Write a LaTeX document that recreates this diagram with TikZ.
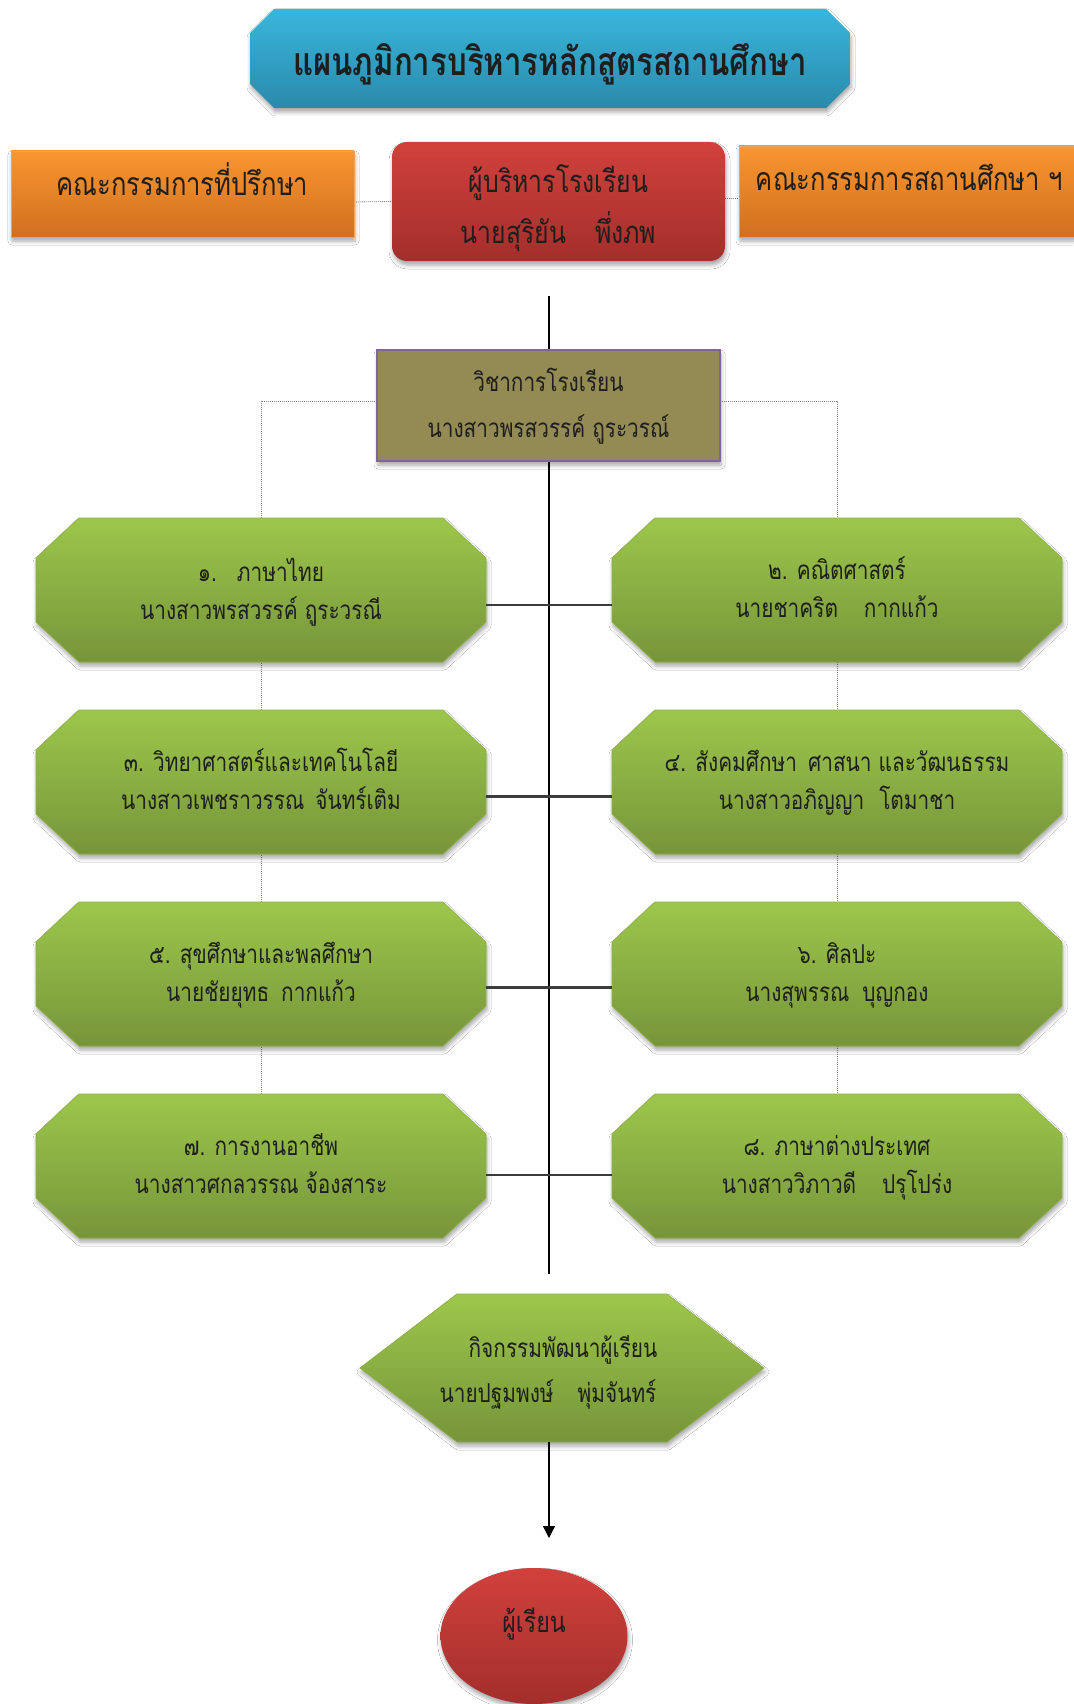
\documentclass[tikz,border=0pt]{standalone}
\usepackage{fontspec}
\newfontfamily\thai[Script=Thai, FakeStretch=0.8]{Loma}
\usetikzlibrary{shapes.geometric,shadows.blur,arrows.meta,calc}
\definecolor{tealT}{HTML}{39B6DC}
\definecolor{tealB}{HTML}{2A8AAB}
\definecolor{oraT}{HTML}{F89631}
\definecolor{oraB}{HTML}{D16F1E}
\definecolor{oraD}{HTML}{F2A25A}
\definecolor{redT}{HTML}{D1413C}
\definecolor{redB}{HTML}{A32E2B}
\definecolor{olive}{HTML}{948A54}
\definecolor{purp}{HTML}{8064A2}
\definecolor{grnT}{HTML}{9DC74B}
\definecolor{grnB}{HTML}{76953A}
\definecolor{grnD}{HTML}{8CB043}
\definecolor{txt}{HTML}{1E1E1E}
\definecolor{conn}{HTML}{3C3C3C}
\pgfdeclarelayer{bg}
\pgfdeclarelayer{shapes}
\pgfsetlayers{bg,shapes,main}
% text lines lowered by #1 without changing the node size
\newcommand\txtlines[2]{\raisebox{-#1}[\height][\depth]{\begin{tabular}{@{}c@{}}#2\end{tabular}}}
% octagon drawn on the anchors of a rectangular node (chamfers in picture units)
\newcommand\octashape[4]{\path[#1] ($(#2.north west)+(#3,0)$) -- ($(#2.north east)+(-#3,0)$)
  -- ($(#2.north east)+(0,#4)$) -- ($(#2.south east)+(0,-#4)$) -- ($(#2.south east)+(-#3,0)$)
  -- ($(#2.south west)+(#3,0)$) -- ($(#2.south west)+(0,-#4)$) -- ($(#2.north west)+(0,#4)$) -- cycle;}
\newcommand\hexashape[3]{\path[#1] ($(#2.north west)+(#3,0)$) -- ($(#2.north east)+(-#3,0)$)
  -- (#2.east) -- ($(#2.south east)+(-#3,0)$) -- ($(#2.south west)+(#3,0)$) -- (#2.west) -- cycle;}
\begin{document}
\begin{tikzpicture}[x=1pt,y=-1pt,
  shadowed/.style={blur shadow={shadow xshift=1pt, shadow yshift=-4pt, shadow blur radius=4pt, shadow opacity=35}},
  boxnode/.style={rectangle, inner sep=0pt, outer sep=0pt, text=txt},
  titlefill/.style={top color=tealT, bottom color=tealB, shadowed},
  greenfill/.style={top color=grnT, bottom color=grnB, draw=grnD, line width=0.6pt, shadowed},
  orangebox/.style={boxnode, top color=oraT, bottom color=oraB, draw=oraD, line width=0.8pt,
    shadowed, font=\thai\fontsize{32}{40}\selectfont},
  redbox/.style={boxnode, rounded corners=15pt, top color=redT, bottom color=redB,
    shadowed, font=\thai\fontsize{31}{51}\selectfont},
  olivebox/.style={boxnode, fill=olive, draw=purp, line width=1.5pt,
    shadowed, font=\thai\fontsize{26}{46}\selectfont},
  greenbox/.style={boxnode, minimum width=450pt, minimum height=144pt, font=\thai\fontsize{26}{38.5}\selectfont},
  hexbox/.style={boxnode, minimum width=404pt, minimum height=148pt, font=\thai\fontsize{26}{45}\selectfont},
  studentbox/.style={ellipse, minimum width=187pt, minimum height=136pt, inner sep=0pt, outer sep=0pt,
    top color=redT, bottom color=redB, shadowed, text=txt, font=\thai\fontsize{29}{36}\selectfont,
    text height=10pt, text depth=16.2pt},
  dotline/.style={draw=black!50, line width=0.8pt, dash pattern=on 1pt off 1pt},
  vline/.style={draw=black, line width=1.5pt},
  hconn/.style={draw=conn, line width=2.6pt},
  arrowline/.style={draw=black, line width=1.4pt, -{Triangle[width=12pt,length=12pt]}}
]
\useasboundingbox (0,0) rectangle (1073,1704);

\node[boxnode, minimum width=600pt, minimum height=99pt, font=\thai\bfseries\fontsize{39}{46}\selectfont,
  text height=40pt, text depth=6.4pt] (title) at (550,58.5) {แผนภูมิการบริหารหลักสูตรสถานศึกษา};

\node[orangebox, minimum width=343pt, minimum height=86pt, text height=16pt, text depth=12.2pt] (advisors) at (182.5,194) {คณะกรรมการที่ปรึกษา};
\node[redbox, minimum width=333pt, minimum height=119pt] (director) at (558.5,201.5) {\txtlines{6pt}{ผู้บริหารโรงเรียน\\นายสุริยัน\hspace{29pt}พึ่งภพ}};
\node[orangebox, minimum width=341pt, minimum height=91pt, text height=12pt, text depth=14.2pt] (board) at (909.5,191.5) {คณะกรรมการสถานศึกษา ฯ};

\node[olivebox, minimum width=343pt, minimum height=111pt] (academic) at (548.5,405.5) {\txtlines{0pt}{วิชาการโรงเรียน\\นางสาวพรสวรรค์ ฤูระวรณ์}};

\node[greenbox] (b1) at (261,590) {\txtlines{3pt}{๑.\hspace{20pt}ภาษาไทย\\นางสาวพรสวรรค์ ฤูระวรณี}};
\node[greenbox] (b2) at (837,590) {\txtlines{1pt}{๒. คณิตศาสตร์\\นายชาคริต\hspace{26pt}กากแก้ว}};
\node[greenbox] (b3) at (261,782) {\txtlines{1pt}{๓. วิทยาศาสตร์และเทคโนโลยี\\นางสาวเพชราวรรณ\hspace{11pt}จันทร์เติม}};
\node[greenbox] (b4) at (837,782) {\txtlines{1pt}{๔. สังคมศึกษา\hspace{11pt}ศาสนา และวัฒนธรรม\\นางสาวอภิญญา\hspace{15pt}โตมาชา}};
\node[greenbox] (b5) at (261,974) {\txtlines{1pt}{๕. สุขศึกษาและพลศึกษา\\นายชัยยุทธ\hspace{12pt}กากแก้ว}};
\node[greenbox] (b6) at (837,974) {\txtlines{1pt}{๖. ศิลปะ\\นางสุพรรณ\hspace{13pt}บุญกอง}};
\node[greenbox] (b7) at (261,1166) {\txtlines{1pt}{๗. การงานอาชีพ\\นางสาวศกลวรรณ จ้องสาระ}};
\node[greenbox] (b8) at (837,1166) {\txtlines{1pt}{๘. ภาษาต่างประเทศ\\นางสาววิภาวดี\hspace{26pt}ปรุโปร่ง}};

\node[hexbox] (activity) at (562,1368) {\txtlines{3pt}{\hspace*{2pt}กิจกรรมพัฒนาผู้เรียน\\นายปฐมพงษ์\hspace{24pt}พุ่มจันทร์\hspace*{28pt}}};
\node[studentbox] (student) at (534,1636) {ผู้เรียน};

\coordinate (vtop) at (549,296);
\coordinate (vbot) at (549,1274);
\coordinate (arrowend) at (549,1538);

\begin{pgfonlayer}{shapes}
  \octashape{titlefill}{title}{24}{24}
  \octashape{greenfill}{b1}{43}{40}
  \octashape{greenfill}{b2}{43}{40}
  \octashape{greenfill}{b3}{43}{40}
  \octashape{greenfill}{b4}{43}{40}
  \octashape{greenfill}{b5}{43}{40}
  \octashape{greenfill}{b6}{43}{40}
  \octashape{greenfill}{b7}{43}{40}
  \octashape{greenfill}{b8}{43}{40}
  \hexashape{greenfill}{activity}{97}
\end{pgfonlayer}

\begin{pgfonlayer}{bg}
  \fill[white] (0,0) rectangle (1073,1704);
  \draw[dotline] ([yshift=-8pt]advisors.east) -- (director.west);
  \draw[dotline] ([yshift=3.5pt]director.east) -- ([yshift=-6.5pt]board.west);
  \draw[dotline] ([yshift=4.5pt]academic.west) -| (b7.north);
  \draw[dotline] ([yshift=4.5pt]academic.east) -| (b8.north);
  \draw[vline] (vtop) -- (vbot);
\end{pgfonlayer}

\draw[hconn] ([yshift=-15pt]b1.east) -- ([yshift=-15pt]b2.west);
\draw[hconn] ([yshift=-14.5pt]b3.east) -- ([yshift=-14.5pt]b4.west);
\draw[hconn] ([yshift=-13.5pt]b5.east) -- ([yshift=-13.5pt]b6.west);
\draw[hconn] ([yshift=-9pt]b7.east) -- ([yshift=-9pt]b8.west);
\draw[arrowline] (activity.south -| vtop) -- (arrowend);
\end{tikzpicture}
\end{document}
